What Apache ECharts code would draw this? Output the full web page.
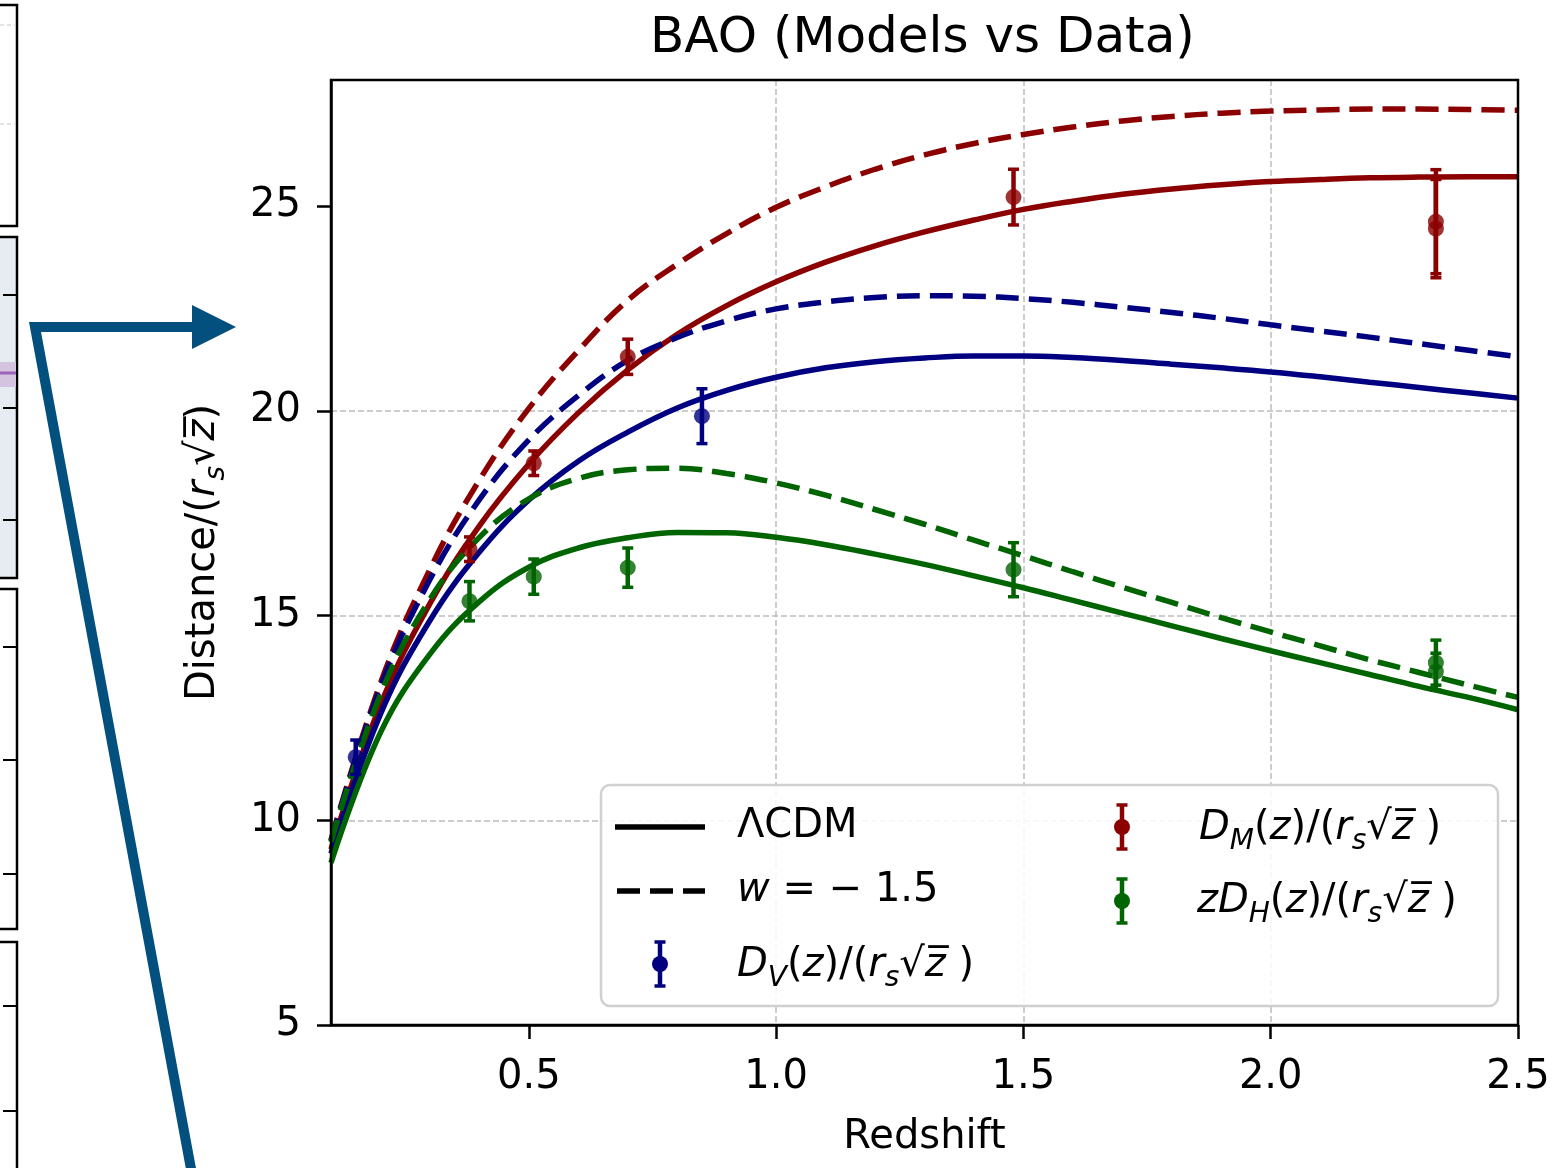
<!DOCTYPE html>
<html><head><meta charset="utf-8">
<script src="https://cdn.jsdelivr.net/npm/echarts@6/dist/echarts.min.js"></script>
<style>html,body{margin:0;padding:0;background:#fff}#c{width:1564px;height:1168px}</style>
</head><body><div id="c"></div><script>
// ---------------- data ----------------
const zModel = [0.1, 0.2, 0.3, 0.4, 0.5, 0.6, 0.7, 0.8, 0.9, 1.0, 1.1, 1.2, 1.3, 1.4, 1.5,
                1.6, 1.7, 1.8, 1.9, 2.0, 2.1, 2.2, 2.3, 2.4, 2.5];
// D_M/(r_s sqrt z)
const dmLCDM = [9.29, 12.82, 15.29, 17.19, 18.7, 19.95, 21.0, 21.87, 22.57, 23.15, 23.63, 24.03, 24.37, 24.66, 24.92,
                25.12, 25.29, 25.42, 25.52, 25.6, 25.65, 25.69, 25.71, 25.72, 25.72];
const dmW15  = [9.52, 13.35, 16.13, 18.31, 20.06, 21.47, 22.7, 23.58, 24.33, 24.97, 25.47, 25.9, 26.25, 26.53, 26.75,
                26.93, 27.08, 27.19, 27.27, 27.32, 27.35, 27.37, 27.37, 27.36, 27.34];
// D_V/(r_s sqrt z)
const dvLCDM = [9.19, 12.59, 14.88, 16.55, 17.82, 18.77, 19.48, 20.07, 20.5, 20.82, 21.05, 21.2, 21.29, 21.34, 21.34,
                21.3, 21.23, 21.14, 21.05, 20.95, 20.83, 20.7, 20.57, 20.44, 20.31];
const dvW15  = [9.5, 13.25, 15.88, 17.83, 19.29, 20.37, 21.23, 21.79, 22.2, 22.49, 22.66, 22.77, 22.81, 22.8, 22.74,
                22.65, 22.53, 22.4, 22.26, 22.1, 21.95, 21.8, 21.64, 21.48, 21.32];
// z D_H/(r_s sqrt z)
const dhLCDM = [8.96, 12.14, 14.06, 15.34, 16.18, 16.65, 16.9, 17.03, 17.02, 16.91, 16.73, 16.5, 16.25, 15.97, 15.68,
                15.37, 15.06, 14.75, 14.44, 14.14, 13.85, 13.56, 13.27, 13.0, 12.7];
const dhW15  = [9.47, 13.07, 15.4, 16.91, 17.85, 18.35, 18.56, 18.6, 18.47, 18.24, 17.94, 17.59, 17.23, 16.84, 16.46,
                16.07, 15.69, 15.32, 14.95, 14.6, 14.26, 13.92, 13.61, 13.3, 13.0];

const dvZ = [0.15, 0.85];
const dvVal = [11.54, 19.87];
const dvErr = [0.42, 0.67];
const dmZ = [0.38, 0.51, 0.70, 1.48, 2.334, 2.334];
const dmVal = [16.62, 18.72, 21.32, 25.22, 24.62, 24.45];
const dmErr = [0.30, 0.30, 0.43, 0.68, 1.27, 1.20];
const dhZ = [0.38, 0.51, 0.70, 1.48, 2.334, 2.334];
const dhVal = [15.35, 15.95, 16.17, 16.12, 13.85, 13.63];
const dhErr = [0.48, 0.43, 0.48, 0.66, 0.55, 0.45];

const xTicks = [0.5, 1.0, 1.5, 2.0, 2.5];
const yTicks = [5, 10, 15, 20, 25];

// ---------------- styling ----------------
const F = 'DejaVu Sans';
const RED = '#8b0000', BLUE = '#000080', GREEN = '#006400';
const LW = 5.5, DASH = [23, 10];

const rich = {
  n: {fontFamily: F, fontSize: 40, color: '#000', lineHeight: 54, verticalAlign: 'middle'},
  i: {fontFamily: F, fontSize: 40, color: '#000', fontStyle: 'italic', lineHeight: 54, verticalAlign: 'middle'},
  s: {fontFamily: F, fontSize: 28, color: '#000', fontStyle: 'italic', lineHeight: 24, verticalAlign: 'bottom'}
};

function pairs(xs, ys) { return xs.map((x, k) => [x, ys[k]]); }
function triples(xs, ys, es) { return xs.map((x, k) => [x, ys[k], es[k]]); }

function lineSeries(name, ys, color, dashed) {
  return {
    name, type: 'line', data: pairs(zModel, ys), showSymbol: false, smooth: 0.4,
    lineStyle: {color, width: LW, type: dashed ? DASH : 'solid', cap: 'butt'},
    z: 2, silent: true
  };
}
function errSeries(name, xs, ys, es, color) {
  return {
    name, type: 'custom', data: triples(xs, ys, es), encode: {x: 0, y: 1}, z: 3, silent: true,
    renderItem: function (params, api) {
      const x = api.value(0), y = api.value(1), e = api.value(2);
      const p1 = api.coord([x, y + e]), p2 = api.coord([x, y - e]);
      const cw = 5.5;
      return {type: 'group', children: [
        {type: 'line', shape: {x1: p1[0], y1: p1[1], x2: p2[0], y2: p2[1]}, style: {stroke: color, lineWidth: 4.5}},
        {type: 'line', shape: {x1: p1[0] - cw, y1: p1[1], x2: p1[0] + cw, y2: p1[1]}, style: {stroke: color, lineWidth: 3.5}},
        {type: 'line', shape: {x1: p2[0] - cw, y1: p2[1], x2: p2[0] + cw, y2: p2[1]}, style: {stroke: color, lineWidth: 3.5}}
      ]};
    }
  };
}
function ptSeries(name, xs, ys, color) {
  return {name, type: 'scatter', data: pairs(xs, ys), symbol: 'circle', symbolSize: 16,
    itemStyle: {color}, z: 4, silent: true};
}

// ---------------- legend + decorations (graphic) ----------------
function legendMarker(cx, cy, color) {
  return [
    {type: 'line', shape: {x1: cx, y1: cy - 22, x2: cx, y2: cy + 22}, style: {stroke: color, lineWidth: 4.5}, z: 20},
    {type: 'line', shape: {x1: cx - 5.5, y1: cy - 22, x2: cx + 5.5, y2: cy - 22}, style: {stroke: color, lineWidth: 3.5}, z: 20},
    {type: 'line', shape: {x1: cx - 5.5, y1: cy + 22, x2: cx + 5.5, y2: cy + 22}, style: {stroke: color, lineWidth: 3.5}, z: 20},
    {type: 'circle', shape: {cx, cy, r: 8}, style: {fill: color}, z: 21}
  ];
}
function legendText(x, y, text) {
  return {type: 'text', x, y, z: 21, style: {text, rich, verticalAlign: 'middle', align: 'left', font: '40px "DejaVu Sans"'}};
}
const SQ = '{n|√}{i|z\u0305}{n| )}';
const graphics = [
  // legend box
  {type: 'rect', shape: {x: 601, y: 785, width: 897, height: 221, r: 9}, z: 19,
   style: {fill: 'rgba(255,255,255,0.85)', stroke: '#d0d0d0', lineWidth: 2.5}},
  {type: 'line', shape: {x1: 615, y1: 827, x2: 705, y2: 827}, style: {stroke: '#000', lineWidth: LW}, z: 20},
  {type: 'line', shape: {x1: 617, y1: 891, x2: 705, y2: 891}, style: {stroke: '#000', lineWidth: LW, lineDash: DASH}, z: 20},
  ...legendMarker(660, 964, BLUE),
  ...legendMarker(1122, 827, RED),
  ...legendMarker(1122, 901, GREEN),
  legendText(737, 827, '{n|ΛCDM}'),
  legendText(737, 891, '{i|w}{n| = − 1.5}'),
  legendText(737, 966, '{i|D}{s|V}{n|(}{i|z}{n|)/(}{i|r}{s|s}' + SQ),
  legendText(1199, 829, '{i|D}{s|M}{n|(}{i|z}{n|)/(}{i|r}{s|s}' + SQ),
  legendText(1197, 902, '{i|zD}{s|H}{n|(}{i|z}{n|)/(}{i|r}{s|s}' + SQ),
  // plot frame drawn on top of grid lines
  {type: 'rect', shape: {x: 331, y: 80, width: 1187, height: 945}, style: {fill: null, stroke: '#000', lineWidth: 2.5}, z: 18},
  // left-side neighbouring panels (decoration)
  {type: 'rect', shape: {x: -3, y: 5, width: 20, height: 221}, style: {fill: '#fff', stroke: '#000', lineWidth: 2.5}, z: 1},
  {type: 'line', shape: {x1: 0, y1: 25, x2: 16, y2: 25}, style: {stroke: '#c8c8c8', lineWidth: 1.2, lineDash: [4, 3]}, z: 1},
  {type: 'line', shape: {x1: 0, y1: 124, x2: 16, y2: 124}, style: {stroke: '#c8c8c8', lineWidth: 1.2, lineDash: [4, 3]}, z: 1},
  {type: 'rect', shape: {x: -3, y: 237, width: 20, height: 341}, style: {fill: '#e6ecf2', stroke: '#000', lineWidth: 2.5}, z: 1},
  {type: 'rect', shape: {x: 0, y: 362, width: 16, height: 25}, style: {fill: '#d4c4df'}, z: 1},
  {type: 'line', shape: {x1: 0, y1: 373, x2: 16, y2: 373}, style: {stroke: '#9d63b8', lineWidth: 3}, z: 1},
  {type: 'line', shape: {x1: 3, y1: 295, x2: 16, y2: 295}, style: {stroke: '#000', lineWidth: 2}, z: 1},
  {type: 'line', shape: {x1: 3, y1: 408, x2: 16, y2: 408}, style: {stroke: '#000', lineWidth: 2}, z: 1},
  {type: 'line', shape: {x1: 3, y1: 520, x2: 16, y2: 520}, style: {stroke: '#000', lineWidth: 2}, z: 1},
  {type: 'rect', shape: {x: -3, y: 589, width: 20, height: 340}, style: {fill: '#fff', stroke: '#000', lineWidth: 2.5}, z: 1},
  {type: 'line', shape: {x1: 3, y1: 647, x2: 16, y2: 647}, style: {stroke: '#000', lineWidth: 2}, z: 1},
  {type: 'line', shape: {x1: 3, y1: 760, x2: 16, y2: 760}, style: {stroke: '#000', lineWidth: 2}, z: 1},
  {type: 'line', shape: {x1: 3, y1: 874, x2: 16, y2: 874}, style: {stroke: '#000', lineWidth: 2}, z: 1},
  {type: 'rect', shape: {x: -3, y: 942, width: 20, height: 240}, style: {fill: '#fff', stroke: '#000', lineWidth: 2.5}, z: 1},
  {type: 'line', shape: {x1: 3, y1: 1006, x2: 16, y2: 1006}, style: {stroke: '#000', lineWidth: 2}, z: 1},
  {type: 'line', shape: {x1: 3, y1: 1111, x2: 16, y2: 1111}, style: {stroke: '#000', lineWidth: 2}, z: 1},
  // arrow
  {type: 'polyline', shape: {points: [[194, 1185], [35, 327], [196, 327]]}, style: {stroke: '#03507f', lineWidth: 10, lineJoin: 'miter', fill: null}, z: 5},
  {type: 'polygon', shape: {points: [[192, 305], [236, 327], [192, 349]]}, style: {fill: '#03507f'}, z: 5}
];

// ---------------- chart ----------------
const chart = echarts.init(document.getElementById('c'), null, {renderer: 'canvas'});
chart.setOption({
  animation: false,
  backgroundColor: '#fff',
  title: {text: 'BAO (Models vs Data)', left: 645, top: 9,
    textStyle: {fontFamily: F, fontSize: 50, fontWeight: 'normal', color: '#000'}},
  grid: {left: 331, right: 46, top: 80, bottom: 143, show: false},
  xAxis: {
    type: 'value', min: 0.1, max: 2.5,
    name: 'Redshift', nameLocation: 'middle', nameGap: 93,
    nameTextStyle: {fontFamily: F, fontSize: 40, color: '#000'},
    axisLine: {lineStyle: {color: '#000', width: 2.5}},
    axisTick: {show: true, length: 14, lineStyle: {color: '#000', width: 2.5}, customValues: xTicks},
    axisLabel: {fontFamily: F, fontSize: 40, color: '#000', margin: 33, customValues: xTicks,
      formatter: v => v.toFixed(1)},
    splitLine: {show: true, showMinLine: false, showMaxLine: false, lineStyle: {color: '#bdbdbd', width: 1.5, type: [6, 3]}}
  },
  yAxis: {
    type: 'value', min: 5, max: 28.08,
    name: '{n|Distance/(}{i|r}{s|s}{n|√}{i|z\u0305}{n|)}', nameLocation: 'middle', nameGap: 100, nameRotate: 90,
    nameTextStyle: {fontFamily: F, fontSize: 40, color: '#000', rich},
    axisLine: {lineStyle: {color: '#000', width: 2.5}},
    axisTick: {show: true, length: 14, lineStyle: {color: '#000', width: 2.5}, customValues: yTicks},
    axisLabel: {fontFamily: F, fontSize: 40, color: '#000', margin: 30, customValues: yTicks},
    splitLine: {show: true, showMinLine: false, showMaxLine: false, lineStyle: {color: '#bdbdbd', width: 1.5, type: [6, 3]}}
  },
  series: [
    lineSeries('DM ΛCDM', dmLCDM, RED, false),
    lineSeries('DM w=-1.5', dmW15, RED, true),
    lineSeries('DV ΛCDM', dvLCDM, BLUE, false),
    lineSeries('DV w=-1.5', dvW15, BLUE, true),
    lineSeries('zDH ΛCDM', dhLCDM, GREEN, false),
    lineSeries('zDH w=-1.5', dhW15, GREEN, true),
    errSeries('DV err', dvZ, dvVal, dvErr, BLUE),
    errSeries('DM err', dmZ, dmVal, dmErr, RED),
    errSeries('DH err', dhZ, dhVal, dhErr, GREEN),
    ptSeries('DV data', dvZ, dvVal, BLUE),
    ptSeries('DM data', dmZ, dmVal, RED),
    ptSeries('DH data', dhZ, dhVal, GREEN)
  ],
  graphic: graphics
});
</script></body></html>
